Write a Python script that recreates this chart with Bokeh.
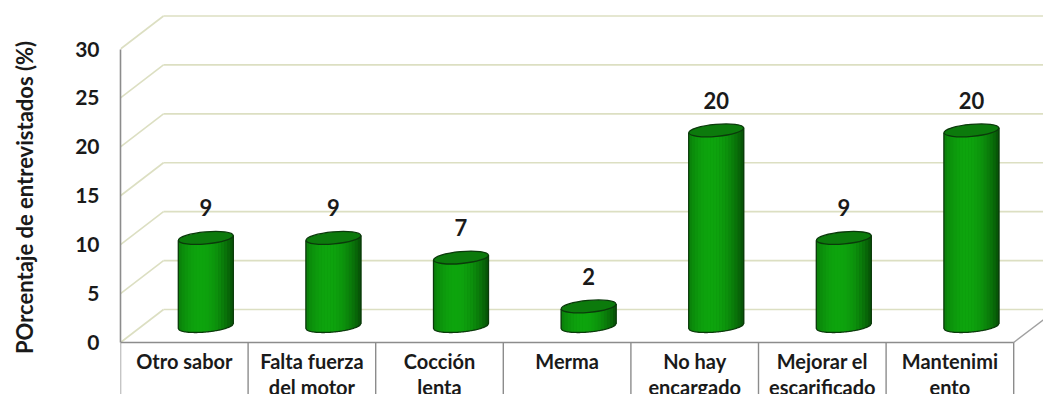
import numpy as np
from bokeh.plotting import figure
from bokeh.models import Range1d, FixedTicker
from bokeh.core.properties import value
from bokeh.embed import file_html
from bokeh.resources import INLINE

# ---- data ----
categories = ["Otro sabor", "Falta fuerza\ndel motor", "Cocción\nlenta", "Merma",
              "No hay\nencargado", "Mejorar el\nescarificado", "Mantenimi\nento"]
values = [9, 9, 7, 2, 20, 9, 20]
y_ticks = [0, 5, 10, 15, 20, 25, 30]
y_title = "POrcentaje de entrevistados (%)"

# ---- layout constants ----
W, H = 1043, 394
LEFT = 120
n = len(categories)
cell_px = 127.6
px_per_unit = 293.5 / 30.0
y0_px = 342
x_end = (W - LEFT) / cell_px
y_start = -(H - y0_px) / px_per_unit
y_end = y0_px / px_per_unit
DX = 43 / cell_px
DY = 33 / px_per_unit
FONT = "Lato"
GRID = "#dcdfc2"
EDGE = "#8c8c8c"

p = figure(width=W, height=H, x_range=Range1d(0, x_end), y_range=Range1d(y_start, y_end),
           output_backend="svg", toolbar_location=None, x_axis_location=None,
           min_border=0, min_border_left=LEFT)
p.outline_line_color = None
p.xgrid.visible = False
p.ygrid.visible = False
p.background_fill_color = "white"
p.border_fill_color = "white"

# ---- walls / gridlines ----
gx, gy = [], []
for v in y_ticks:
    gx.append([DX, x_end + 1]); gy.append([v + DY, v + DY])
    gx.append([0, DX]); gy.append([v, v + DY])
p.multi_line(gx, gy, line_color=GRID, line_width=1.6)

# floor right edge and front edge
p.line([n, n + DX], [0, DY], line_color="#a0a0a0", line_width=1.4)
p.line([0, n], [0, 0], line_color=EDGE, line_width=1.6)

# category table verticals
p.multi_line([[i, i] for i in range(n + 1)], [[0, y_start - 1]] * (n + 1),
             line_color=EDGE, line_width=1.4)

# ---- cylinders ----
hw = 27.5 / cell_px
eh = 12.0 / px_per_unit
ang = 0.09
slope = np.tan(ang) * cell_px / px_per_unit
yb = DY / 2
bright = np.array([14, 165, 14])
NS = 18

base_x, base_y = [], []
strip_x, strip_y, strip_c = [], [], []
out_x, out_y = [], []
top_x, top_y = [], []
for i, v in enumerate(values):
    cx = i + 0.5 + DX / 2
    yt = v + yb

    def bot(x):
        r = np.clip((x - cx) / hw, -1, 1)
        return yb + slope * (x - cx) - (eh / 2) * np.sqrt(1 - r ** 2)

    def top(x):
        return yt + slope * (x - cx)

    xs = np.linspace(cx - hw, cx + hw, 60)
    base_x.append(list(xs) + [cx + hw, cx - hw])
    base_y.append(list(bot(xs)) + [top(cx + hw), top(cx - hw)])
    edges = np.linspace(cx - hw, cx + hw, NS + 1)
    for j in range(NS):
        x0, x1 = edges[j], edges[j + 1]
        t = ((x0 + x1) / 2 - cx) / hw
        L = 1 - 0.52 * (abs(t + 0.2) / 1.2) ** 2
        c = (bright * L).astype(int)
        xx = np.linspace(x0, x1 + (x1 - x0) * 0.15, 5)
        strip_x.append(list(xx) + [xx[-1], xx[0]])
        strip_y.append(list(bot(xx)) + [top(xx[-1]), top(xx[0])])
        strip_c.append("#%02x%02x%02x" % tuple(c))
    out_x.append([cx - hw] + list(xs) + [cx + hw])
    out_y.append([top(cx - hw)] + list(bot(xs)) + [top(cx + hw)])
    top_x.append(cx); top_y.append(yt)

p.patches(base_x, base_y, fill_color="#0a6e0a", line_color=None)
p.patches(strip_x, strip_y, fill_color=strip_c, line_color=None)
p.multi_line(out_x, out_y, line_color="#0b3a0b", line_width=1.3)
p.ellipse(x=top_x, y=top_y, width=2 * hw, height=eh, angle=ang,
          fill_color="#0c7a0c", line_color="#0b3a0b", line_width=1.3)

# value labels
p.text(x=top_x, y=[v + yb + 3.1 for v in values], text=[str(v) for v in values],
       text_font=value(FONT), text_font_style="bold", text_font_size="22px",
       text_align="center", text_baseline="middle", text_color="#1a1a1a")

# category labels
p.text(x=[i + 0.5 for i in range(n)], y=[-(348 - y0_px) / px_per_unit] * n, text=categories,
       text_font=value(FONT), text_font_style="bold", text_font_size="20px",
       text_align="center", text_baseline="top", text_line_height=1.1, text_color="#1a1a1a")

# ---- y axis ----
ax = p.yaxis[0]
ax.ticker = FixedTicker(ticks=y_ticks)
ax.bounds = (0, 30)
ax.axis_line_color = EDGE
ax.axis_line_width = 1.6
ax.major_tick_line_color = None
ax.minor_tick_line_color = None
ax.major_tick_out = 0
ax.major_tick_in = 0
ax.major_label_standoff = 21
ax.major_label_text_font = FONT
ax.major_label_text_font_style = "bold"
ax.major_label_text_font_size = "21px"
ax.major_label_text_color = "#1a1a1a"
ax.axis_label = y_title
ax.axis_label_text_font = FONT
ax.axis_label_text_font_style = "bold"
ax.axis_label_text_font_size = "22px"
ax.axis_label_text_color = "#1a1a1a"
ax.axis_label_standoff = 34

open("out.html", "w").write(file_html(p, INLINE))
